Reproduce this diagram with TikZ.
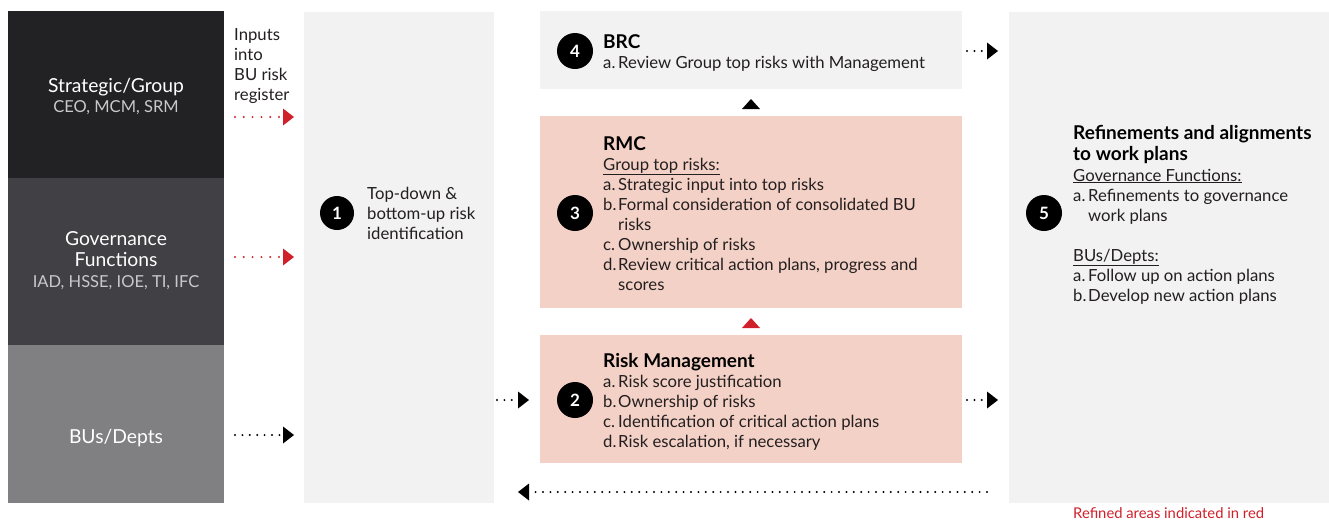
\documentclass[tikz,border=0pt]{standalone}
\usepackage{fontspec}
\setmainfont{Lato}
\usetikzlibrary{arrows.meta}
\definecolor{dkA}{HTML}{222224}
\definecolor{dkB}{HTML}{414145}
\definecolor{dkC}{HTML}{808083}
\definecolor{lgray}{HTML}{F1F2F1}
\definecolor{pink}{HTML}{F4D1C6}
\definecolor{rred}{HTML}{D0202A}
\definecolor{txt}{HTML}{231F20}
\definecolor{subg}{HTML}{C9C9CB}
\newcommand\itm[2]{\makebox[15pt][l]{#1}#2}
\begin{document}
\begin{tikzpicture}[x=1pt,y=-1pt,
  box/.style={anchor=north west,inner sep=0pt,outer sep=0pt,draw=none},
  bodyt/.style={anchor=base west,inner sep=0pt,font=\fontsize{16.7}{20}\selectfont,text=txt},
  titlet/.style={anchor=base west,inner sep=0pt,font=\fontsize{19}{20}\selectfont\bfseries,text=black},
  lefttitle/.style={anchor=base,inner sep=0pt,font=\fontsize{19.3}{20}\selectfont,text=white},
  leftsub/.style={anchor=base,inner sep=0pt,font=\fontsize{16.5}{20}\selectfont,text=subg},
  num/.style={circle,fill=black,text=white,minimum size=36pt,inner sep=0pt,font=\fontsize{17}{20}\selectfont\bfseries},
  dotarrow/.style={line width=2.2pt,dash pattern=on 0pt off 7.4pt,line cap=round,
     -{Triangle[length=11pt,width=17pt,line width=0pt]}},
  redarrow/.style={dotarrow,dash pattern=on 0pt off 8.8pt,rred},
]
\useasboundingbox (0,0) rectangle (1329,523);

% boxes
\node[box,fill=dkA,minimum width=216pt,minimum height=167pt] (strat) at (8,11) {};
\node[box,fill=dkB,minimum width=216pt,minimum height=167pt] (gov) at (8,178) {};
\node[box,fill=dkC,minimum width=216pt,minimum height=158pt] (bus) at (8,345) {};
\node[box,fill=lgray,minimum width=190pt,minimum height=491pt] (col1) at (304,12) {};
\node[box,fill=lgray,minimum width=422pt,minimum height=78pt] (brc) at (540,11) {};
\node[box,fill=pink,minimum width=422pt,minimum height=192pt] (rmc) at (540,116) {};
\node[box,fill=pink,minimum width=422pt,minimum height=128pt] (rm) at (540,335) {};
\node[box,fill=lgray,minimum width=320pt,minimum height=491pt] (col5) at (1009,12) {};

% left column texts
\node[lefttitle] (stT) at (116,92) {Strategic/Group};
\node[leftsub] (stS) at (116,112) {CEO, MCM, SRM};
\node[lefttitle] (goT1) at (116,245) {Governance};
\node[lefttitle] (goT2) at (116,266) {Functions};
\node[leftsub] (goS) at (116,287) {IAD, HSSE, IOE, TI, IFC};
\node[lefttitle] (buT) at (116,443) {BUs/Depts};

% inputs label
\node[bodyt] (in1) at (234,40) {Inputs};
\node[bodyt] (in2) at (234,60) {into};
\node[bodyt] (in3) at (234,80) {BU risk};
\node[bodyt] (in4) at (234,100) {register};

% column 1
\node[num,minimum size=34pt] (n1) at (337,213) {1};
\node[bodyt] (c1a) at (367,199) {Top-down \&};
\node[bodyt] (c1b) at (367,219) {bottom-up risk};
\node[bodyt] (c1c) at (367,239) {identification};

% BRC
\node[num] (n4) at (575,51) {4};
\node[titlet] (brcT) at (603,48) {BRC};
\node[bodyt] (brc1) at (603,68) {\itm{a.}{Review Group top risks with Management}};

% RMC
\node[num] (n3) at (575,213) {3};
\node[titlet] (rmcT) at (603,150) {RMC};
\node[bodyt] (rmc0) at (603,170) {\underline{Group top risks:}};
\node[bodyt] (rmc1) at (603,190) {\itm{a.}{Strategic input into top risks}};
\node[bodyt] (rmc2) at (603,210) {\itm{b.}{Formal consideration of consolidated BU}};
\node[bodyt] (rmc3) at (603,230) {\itm{}{risks}};
\node[bodyt] (rmc4) at (603,250) {\itm{c.}{Ownership of risks}};
\node[bodyt] (rmc5) at (603,270) {\itm{d.}{Review critical action plans, progress and}};
\node[bodyt] (rmc6) at (603,290) {\itm{}{scores}};

% Risk Management
\node[num] (n2) at (575,400) {2};
\node[titlet] (rmT) at (603,367) {Risk Management};
\node[bodyt] (rm1) at (603,387) {\itm{a.}{Risk score justification}};
\node[bodyt] (rm2) at (603,407) {\itm{b.}{Ownership of risks}};
\node[bodyt] (rm3) at (603,427) {\itm{c.}{Identification of critical action plans}};
\node[bodyt] (rm4) at (603,447) {\itm{d.}{Risk escalation, if necessary}};

% column 5
\node[num] (n5) at (1044,213) {5};
\node[titlet] (c5T1) at (1073,139) {Refinements and alignments};
\node[titlet] (c5T2) at (1073,160) {to work plans};
\node[bodyt] (c5a) at (1073,181) {\underline{Governance Functions:}};
\node[bodyt] (c5b) at (1073,201) {\itm{a.}{Refinements to governance}};
\node[bodyt] (c5c) at (1073,221) {\itm{}{work plans}};
\node[bodyt] (c5d) at (1073,261) {\underline{BUs/Depts:}};
\node[bodyt] (c5e) at (1073,281) {\itm{a.}{Follow up on action plans}};
\node[bodyt] (c5f) at (1073,301) {\itm{b.}{Develop new action plans}};

\node[anchor=base west,inner sep=0pt,font=\fontsize{14.8}{16}\selectfont,text=rred] (note) at (1073,518) {Refined areas indicated in red};

% connectors
\coordinate (sA) at (235,117); \coordinate (sB) at (294,117);
\coordinate (gA) at (235,257); \coordinate (gB) at (294,257);
\coordinate (bA) at (235,435); \coordinate (bB) at (294,435);
\coordinate (cA) at (497,400); \coordinate (cB) at (529,400);
\coordinate (rA) at (967,400); \coordinate (rB) at (998,400);
\coordinate (kA) at (967,51);  \coordinate (kB) at (998,51);
\coordinate (fA) at (987,492); \coordinate (fB) at (518,492);
\draw[redarrow] (sA) -- (sB);
\draw[redarrow] (gA) -- (gB);
\draw[dotarrow] (bA) -- (bB);
\draw[dotarrow] (cA) -- (cB);
\draw[dotarrow] (rA) -- (rB);
\draw[dotarrow] (kA) -- (kB);
\draw[dotarrow] (fA) -- (fB);

% up triangles
\fill[black] ([xshift=-9pt,yshift=7pt]rmc.north) -- ([xshift=9pt,yshift=7pt]rmc.north) -- ([yshift=17pt]rmc.north) -- cycle;
\fill[rred] ([xshift=-9pt,yshift=7pt]rm.north) -- ([xshift=9pt,yshift=7pt]rm.north) -- ([yshift=17pt]rm.north) -- cycle;
\end{tikzpicture}
\end{document}
